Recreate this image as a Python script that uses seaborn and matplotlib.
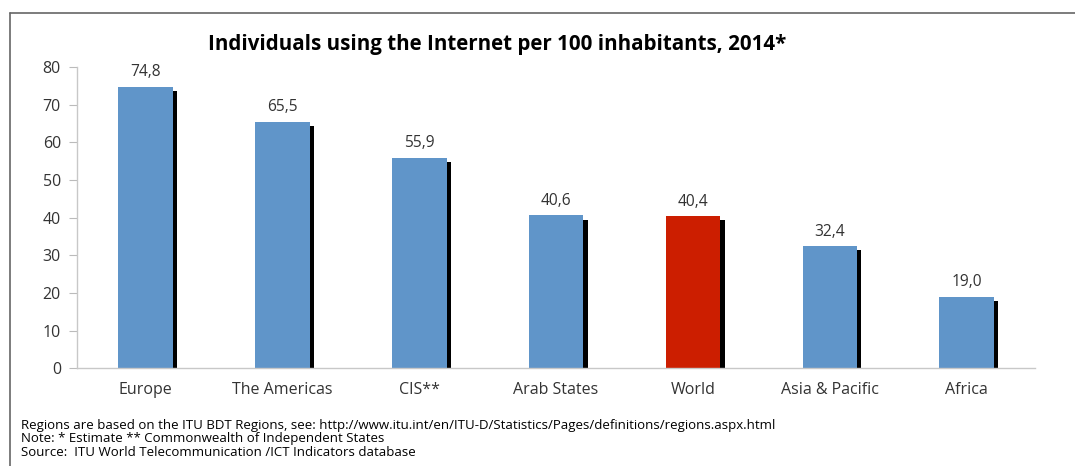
import matplotlib
matplotlib.use("Agg")
import matplotlib.pyplot as plt
import matplotlib.patheffects as pe
from matplotlib.lines import Line2D
import seaborn as sns
import pandas as pd

regions = ["Europe", "The Americas", "CIS**", "Arab States", "World", "Asia & Pacific", "Africa"]
users_per_100 = [74.8, 65.5, 55.9, 40.6, 40.4, 32.4, 19.0]
y_ticks = [0, 10, 20, 30, 40, 50, 60, 70, 80]

title = "Individuals using the Internet per 100 inhabitants, 2014*"
footnotes = [
    "Regions are based on the ITU BDT Regions, see: http://www.itu.int/en/ITU-D/Statistics/Pages/definitions/regions.aspx.html",
    "Note: * Estimate ** Commonwealth of Independent States",
    "Source:  ITU World Telecommunication /ICT Indicators database",
]

BLUE = "#6095c9"
RED = "#cc1e00"
TEXT = "#333333"

sns.set_theme(style="white")
plt.rcParams["font.family"] = ["Open Sans", "DejaVu Sans"]

df = pd.DataFrame({"region": regions, "value": users_per_100})
palette = {r: (RED if r == "World" else BLUE) for r in regions}

fig = plt.figure(figsize=(10.75, 4.66), dpi=100)
ax = fig.add_axes([0.0716, 0.21, 0.8914, 0.646])

sns.barplot(data=df, x="region", y="value", hue="region", palette=palette,
            width=0.4, saturation=1, legend=False, ax=ax, edgecolor="none")

shadow = [pe.SimplePatchShadow(offset=(3, -3), shadow_rgbFace="black", alpha=1.0), pe.Normal()]
for bar in ax.patches:
    bar.set_path_effects(shadow)

for i, v in enumerate(users_per_100):
    ax.text(i, v + 1.7, f"{v:.1f}".replace(".", ","), ha="center", va="bottom",
            fontsize=11.2, color=TEXT)

ax.set_xlim(-0.5, 6.5)
ax.set_ylim(0, 80)
ax.set_yticks(y_ticks)
ax.set_xlabel("")
ax.set_ylabel("")
ax.tick_params(axis="y", length=5.5, width=0.8, color="#bbbbbb", labelsize=11.5,
               labelcolor=TEXT, pad=6, left=True)
ax.tick_params(axis="x", length=0, labelsize=11.5, labelcolor=TEXT, pad=10)
for side in ["top", "right"]:
    ax.spines[side].set_visible(False)
for side in ["left", "bottom"]:
    ax.spines[side].set_color("#c8c8c8")
    ax.spines[side].set_linewidth(1.0)

fig.text(0.4623, 0.905, title, ha="center", va="center", fontsize=14.8,
         fontweight="bold", color="black")

for k, line in enumerate(footnotes):
    fig.text(0.0195, 0.086 - k * 0.028, line, ha="left", va="center",
             fontsize=9.5, color="black")

# outer frame: top and left edges
fig.add_artist(Line2D([0.0093, 1.0], [0.972, 0.972], transform=fig.transFigure,
                      color="#666666", linewidth=1.2))
fig.add_artist(Line2D([0.0093, 0.0093], [0.0, 0.972], transform=fig.transFigure,
                      color="#666666", linewidth=1.2))

fig.savefig("out.png", dpi=100, facecolor="white")
